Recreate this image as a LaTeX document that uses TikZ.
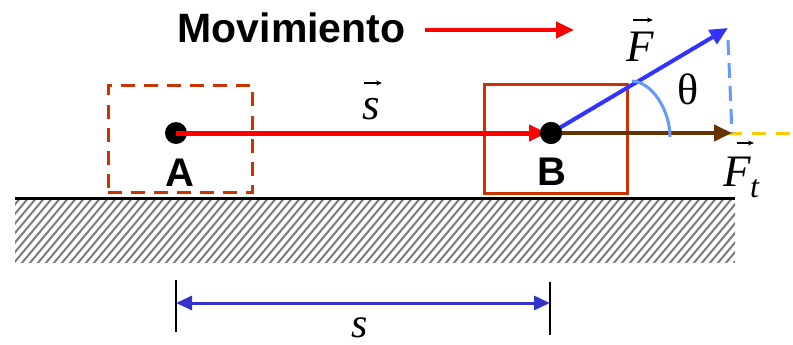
\documentclass[tikz,border=0pt]{standalone}
\usepackage{fontspec}
\setmainfont{Liberation Serif}
\setsansfont{Liberation Sans}
\usetikzlibrary{arrows.meta}
\definecolor{boxred}{HTML}{CC3300}
\definecolor{fblue}{HTML}{3333FF}
\definecolor{ftbrown}{HTML}{663300}
\definecolor{lblue}{HTML}{6699FF}
\definecolor{dimblue}{HTML}{3333CC}
\definecolor{ylw}{HTML}{FFCC00}
\definecolor{hatch}{HTML}{808080}
\tikzset{
  dot/.style={circle,fill=black,inner sep=0pt,minimum size=22},
  biglbl/.style={font=\sffamily\bfseries\fontsize{40}{44}\selectfont,inner sep=0pt,anchor=base},
  mlbl/.style={font=\itshape\fontsize{45}{50}\selectfont,inner sep=0pt,anchor=base},
  tip/.style={-{Triangle[length=18,width=16]}},
  vecarrow/.style={line width=1.3,-{Stealth[length=6,width=5]}},
  boxA/.style={draw=boxred,line width=3,dash pattern=on 14 off 9,minimum width=144,minimum height=107,inner sep=0pt},
  boxB/.style={draw=boxred,line width=3,minimum width=143,minimum height=108,inner sep=0pt},
}
\begin{document}
\begin{tikzpicture}[x=1pt,y=-1pt]
\useasboundingbox (0,0) rectangle (793,345);
% ground hatching
\begin{scope}
\clip (15,199) rectangle (735,262);
\foreach \i in {-80,-72,...,760}
  \draw[hatch,line width=2.1] (\i,270) -- ++(67,-80);
\end{scope}
\draw[black,line width=3] (15,198) -- (735,198);
% boxes
\node[boxA] (boxA) at (180,139) {};
\node[boxB] (boxB) at (555.5,139) {};
% dots
\node[dot] (A) at (176,133) {};
\node[dot] (B) at (551,133) {};
\coordinate (Ftip) at (728,28);
\coordinate (Fttip) at (732,133);
\coordinate (yend) at (793,133);
\coordinate (vtop) at (728,40);
% yellow dashed line
\draw[ylw,line width=3,dash pattern=on 14 off 10] (A.center) -- (yend);
% displacement
\draw[red,line width=5,tip,shorten >=4] (A.center) -- (B.center);
% force components
\draw[lblue,line width=3,dash pattern=on 15 off 8] (vtop) -- (Fttip);
\draw[ftbrown,line width=4,tip] (B.center) -- (Fttip);
\draw[fblue,line width=4,tip] (B.center) -- (Ftip);
\draw[lblue,line width=3] (632,81) .. controls (652,82) and (670,110) .. (670,137);
\node[dot] at (B) {};
% labels
\node[biglbl] (LA) at (180,186) {A};
\node[biglbl] (LB) at (551.5,185) {B};
\node[mlbl] (Ls) at (371,119) {s};
\draw[vecarrow] (364,83) -- (382,83);
\node[mlbl] (LF) at (640,62) {F};
\draw[vecarrow] (633,20) -- (653,20);
\node[mlbl,font=\fontsize{44}{50}\selectfont] (Lth) at (688,105) {θ};
\node[mlbl,anchor=base west] (LFt) at (723,186) {F};
\node[mlbl,anchor=base west,font=\itshape\fontsize{32}{36}\selectfont] (Lt) at (750,197) {t};
\draw[vecarrow] (737,143) -- (754,143);
% title
\node[biglbl,font=\sffamily\bfseries\fontsize{41}{44}\selectfont] (T) at (291.5,43) {Movimiento};
\coordinate (m1) at (425,30);
\coordinate (m2) at (574,30);
\draw[red,line width=4,tip] (m1) -- (m2);
% dimension
\coordinate (d1t) at (176,280);
\coordinate (d1b) at (176,332);
\coordinate (d2t) at (550,282);
\coordinate (d2b) at (550,335);
\draw[black,line width=2] (d1t) -- (d1b);
\draw[black,line width=2] (d2t) -- (d2b);
\draw[dimblue,line width=3,{Triangle[length=16,width=14]}-{Triangle[length=16,width=14]}] (d1t |- 0,303) -- (d2t |- 0,303);
\node[mlbl,font=\itshape\fontsize{42}{46}\selectfont] (Ldim) at (360,337) {s};
\end{tikzpicture}
\end{document}
